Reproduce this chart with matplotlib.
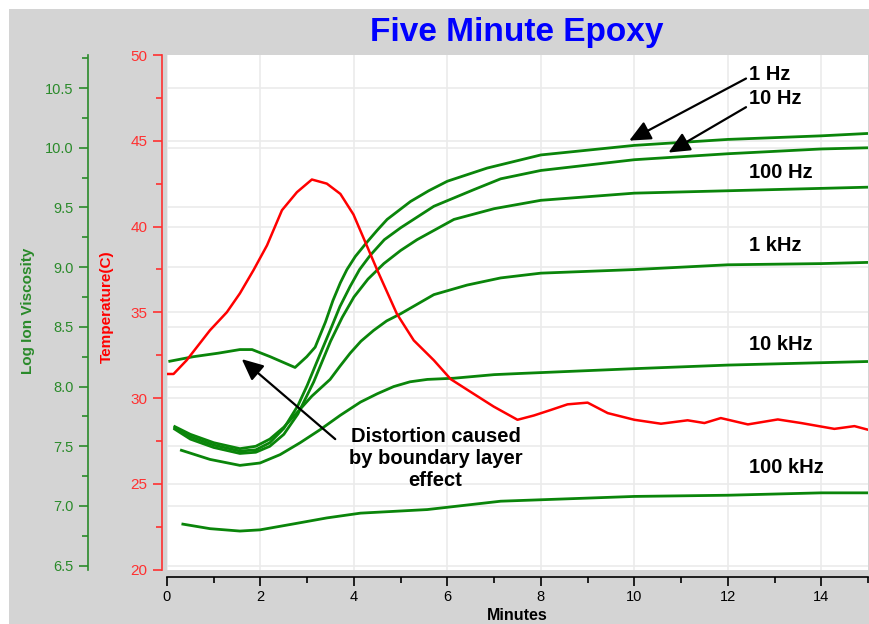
import matplotlib
matplotlib.use('Agg')
import matplotlib.pyplot as plt
import matplotlib.transforms as mtransforms
from matplotlib.patches import Rectangle
from matplotlib.ticker import MultipleLocator, FormatStrFormatter

plt.rcParams['font.family'] = ['Liberation Sans', 'DejaVu Sans']

# ---------------- data ----------------
temp_minutes = [0, 0.14, 0.42, 0.92, 1.28, 1.56, 1.85, 2.14, 2.46, 2.78, 3.10, 3.42, 3.71,
                3.99, 4.21, 4.50, 4.92, 5.28, 5.71, 6.07, 6.5, 6.99, 7.50, 7.85, 8.21, 8.57,
                9.0, 9.43, 10.0, 10.57, 11.14, 11.5, 11.85, 12.43, 13.07, 13.57, 14.28, 14.71, 15.0]
temp_c = [31.4, 31.4, 32.2, 33.95, 35.0, 36.1, 37.45, 38.9, 40.95, 42.0, 42.74, 42.5, 41.9,
          40.7, 39.3, 37.45, 34.9, 33.36, 32.2, 31.1, 30.35, 29.5, 28.73, 28.98, 29.3, 29.63,
          29.73, 29.12, 28.73, 28.5, 28.7, 28.54, 28.83, 28.46, 28.75, 28.54, 28.2, 28.36, 28.15]

hz1_minutes = [0.03, 0.56, 1.10, 1.56, 1.82, 2.21, 2.74, 2.99, 3.17, 3.39, 3.55, 3.71, 3.85,
               4.03, 4.28, 4.5, 4.71, 5.21, 5.6, 6.0, 6.85, 8.0, 10.0, 12.0, 14.0, 15.0]
hz1_visc = [8.21, 8.25, 8.28, 8.31, 8.31, 8.25, 8.16, 8.25, 8.33, 8.54, 8.72, 8.87, 8.98,
            9.09, 9.21, 9.31, 9.40, 9.55, 9.64, 9.72, 9.83, 9.94, 10.02, 10.07, 10.10, 10.12]

hz10_minutes = [0.14, 0.5, 1.0, 1.56, 1.9, 2.2, 2.5, 2.8, 3.0, 3.2, 3.49, 3.7, 3.92, 4.12,
                4.35, 4.65, 5.0, 5.71, 6.57, 7.14, 8.0, 10.0, 12.0, 14.0, 15.0]
hz10_visc = [7.66, 7.58, 7.51, 7.46, 7.47, 7.53, 7.65, 7.84, 8.01, 8.20, 8.47, 8.67, 8.84, 8.98,
             9.10, 9.23, 9.33, 9.51, 9.65, 9.74, 9.81, 9.90, 9.95, 9.99, 10.0]

hz100_minutes = [0.14, 0.5, 1.0, 1.56, 1.9, 2.2, 2.5, 2.8, 3.14, 3.5, 3.75, 4.0, 4.3, 4.64,
                 5.0, 5.35, 6.14, 7.0, 8.0, 10.0, 12.0, 14.0, 15.0]
hz100_visc = [7.65, 7.56, 7.49, 7.44, 7.45, 7.50, 7.60, 7.77, 8.04, 8.38, 8.58, 8.75, 8.90, 9.03,
              9.14, 9.23, 9.40, 9.49, 9.56, 9.62, 9.64, 9.66, 9.67]

khz1_minutes = [0.14, 0.5, 1.0, 1.56, 1.9, 2.2, 2.5, 2.8, 3.1, 3.49, 3.7, 3.92, 4.15, 4.42,
                4.7, 5.0, 5.71, 6.42, 7.14, 8.0, 10.0, 12.0, 14.0, 15.0]
khz1_visc = [7.67, 7.60, 7.53, 7.48, 7.50, 7.56, 7.66, 7.79, 7.92, 8.06, 8.17, 8.28, 8.38, 8.47,
             8.55, 8.61, 8.77, 8.85, 8.91, 8.95, 8.98, 9.02, 9.03, 9.04]

khz10_minutes = [0.28, 0.92, 1.56, 1.99, 2.42, 2.85, 3.28, 3.71, 4.14, 4.5, 4.85, 5.2, 5.57,
                 6.14, 7.0, 7.57, 10.0, 12.0, 14.0, 15.0]
khz10_visc = [7.47, 7.39, 7.34, 7.36, 7.43, 7.53, 7.64, 7.76, 7.87, 7.94, 8.0, 8.04, 8.06,
              8.07, 8.10, 8.11, 8.15, 8.18, 8.20, 8.21]

khz100_minutes = [0.31, 0.92, 1.56, 1.99, 2.71, 3.42, 4.14, 5.57, 7.14, 10.0, 12.0, 14.0, 15.0]
khz100_visc = [6.85, 6.81, 6.79, 6.80, 6.85, 6.90, 6.94, 6.97, 7.04, 7.08, 7.09, 7.11, 7.11]

series_labels = ['1 Hz', '10 Hz', '100 Hz', '1 kHz', '10 kHz', '100 kHz']

# ---------------- figure ----------------
W, H = 870, 624
fig = plt.figure(figsize=(W / 100, H / 100), dpi=100)
fig.patch.set_facecolor('white')
fig.add_artist(Rectangle((9 / W, 0), 1 - 9 / W, 1 - 9 / H, transform=fig.transFigure,
                         facecolor='#d4d4d4', edgecolor='none', zorder=-10))

GREEN = '#0a850a'
GREEN_AX = '#2a8a2a'
RED = '#ff0000'
RED_AX = '#ff3030'
GRID = '#ebebeb'

rect = [167 / W, 1 - 569.5 / H, (868 - 167) / W, (569.5 - 55) / H]
ax_v = fig.add_axes(rect)
ax_v.set_facecolor('white')
ax_t = ax_v.twinx()

# viscosity lines
for xs, ys in [(hz1_minutes, hz1_visc), (hz10_minutes, hz10_visc), (hz100_minutes, hz100_visc),
               (khz1_minutes, khz1_visc), (khz10_minutes, khz10_visc),
               (khz100_minutes, khz100_visc)]:
    ax_v.plot(xs, ys, color=GREEN, lw=2.0, solid_capstyle='butt', solid_joinstyle='round',
              zorder=3)

# temperature line
ax_t.plot(temp_minutes, temp_c, color=RED, lw=1.8, solid_joinstyle='round', zorder=3)

ax_v.set_xlim(0, 15)
ax_v.set_ylim(6.468, 10.777)
ax_t.set_ylim(20, 50)

# ticks
ax_v.xaxis.set_major_locator(MultipleLocator(2))
ax_v.xaxis.set_minor_locator(MultipleLocator(1))
ax_v.yaxis.set_major_locator(MultipleLocator(0.5))
ax_v.yaxis.set_minor_locator(MultipleLocator(0.25))
ax_v.yaxis.set_major_formatter(FormatStrFormatter('%.1f'))
ax_t.yaxis.set_major_locator(MultipleLocator(5))
ax_t.yaxis.set_minor_locator(MultipleLocator(2.5))

# grid
ax_v.set_axisbelow(True)
ax_v.grid(True, axis='both', which='major', color=GRID, lw=1.2)
blend = mtransforms.blended_transform_factory(ax_v.transAxes, ax_t.transData)
for t in [25, 30, 35, 40, 45]:
    ax_v.plot([0, 1], [t, t], transform=blend, color=GRID, lw=1.2, zorder=0.5)
ax_v.set_xlim(0, 15)
ax_v.set_ylim(6.468, 10.777)

# spines
for ax in (ax_v, ax_t):
    ax.spines['top'].set_visible(False)
    ax.spines['right'].set_visible(False)
ax_t.spines['bottom'].set_visible(False)
ax_v.spines['left'].set_position(('outward', 79 * 0.72))
ax_v.spines['left'].set_color(GREEN_AX)
ax_v.spines['left'].set_linewidth(1.2)
ax_v.spines['bottom'].set_position(('outward', 7.5 * 0.72))
ax_v.spines['bottom'].set_color('black')
ax_v.spines['bottom'].set_linewidth(1.2)

ax_t.yaxis.tick_left()
ax_t.yaxis.set_label_position('left')
ax_t.spines['left'].set_visible(True)
ax_t.spines['left'].set_position(('outward', 5 * 0.72))
ax_t.spines['left'].set_color(RED_AX)
ax_t.spines['left'].set_linewidth(1.2)

ax_v.tick_params(axis='y', which='major', direction='out', length=6.5, width=1.2,
                 color=GREEN_AX, labelcolor=GREEN_AX, labelsize=10.5, pad=4)
ax_v.tick_params(axis='y', which='minor', direction='out', length=4.5, width=1.2,
                 color=GREEN_AX)
ax_t.tick_params(axis='y', which='major', direction='out', length=6.5, width=1.2,
                 color=RED_AX, labelcolor=RED_AX, labelsize=11, pad=4)
ax_t.tick_params(axis='y', which='minor', direction='out', length=4.5, width=1.2,
                 color=RED_AX)
ax_v.tick_params(axis='x', which='major', direction='out', length=6.5, width=1.2,
                 color='black', labelcolor='black', labelsize=10.5, pad=3)
ax_v.tick_params(axis='x', which='minor', direction='out', length=4.5, width=1.2,
                 color='black')

# axis labels and title
fig.text(28 / W, 1 - 311 / H, 'Log Ion Viscosity', rotation=90, color=GREEN_AX,
         fontweight='bold', fontsize=11, ha='center', va='center')
fig.text(107 / W, 1 - 307 / H, 'Temperature(C)', rotation=90, color=RED,
         fontweight='bold', fontsize=11, ha='center', va='center')
fig.text(517 / W, 1 - 616 / H, 'Minutes', ha='center', va='center', fontweight='bold',
         fontsize=11.5)
fig.text(517 / W, 1 - 33 / H, 'Five Minute Epoxy', color='#0000ff', fontsize=24,
         fontweight='bold', ha='center', va='center')

# series labels
label_pos = [(12.45, 10.61), (12.45, 10.41), (12.45, 9.79), (12.45, 9.18), (12.45, 8.35),
             (12.45, 7.32)]
for txt, (lx, ly) in zip(series_labels, label_pos):
    ax_t.text(lx, ly, txt, transform=ax_v.transData, fontweight='bold', fontsize=14.5,
              ha='left', va='center', color='black', zorder=5)

arrow_kw = dict(arrowstyle='-|>,head_length=0.65,head_width=0.3', color='black', lw=1.6,
                mutation_scale=20, shrinkA=0, shrinkB=0)
ax_t.annotate('', xy=(9.89, 10.06), xytext=(12.39, 10.58), xycoords=ax_v.transData,
              textcoords=ax_v.transData, arrowprops=arrow_kw, zorder=5)
ax_t.annotate('', xy=(10.73, 9.96), xytext=(12.39, 10.34), xycoords=ax_v.transData,
              textcoords=ax_v.transData, arrowprops=arrow_kw, zorder=5)
ax_t.annotate('', xy=(1.60, 8.23), xytext=(3.60, 7.56), xycoords=ax_v.transData,
              textcoords=ax_v.transData, arrowprops=arrow_kw, zorder=5)
ax_t.text(5.745, 7.394, 'Distortion caused\nby boundary layer\neffect', transform=ax_v.transData,
          ha='center', va='center', multialignment='center', fontweight='bold',
          fontsize=14.5, color='black', zorder=5)

fig.savefig('out.png', dpi=100, facecolor=fig.get_facecolor())
